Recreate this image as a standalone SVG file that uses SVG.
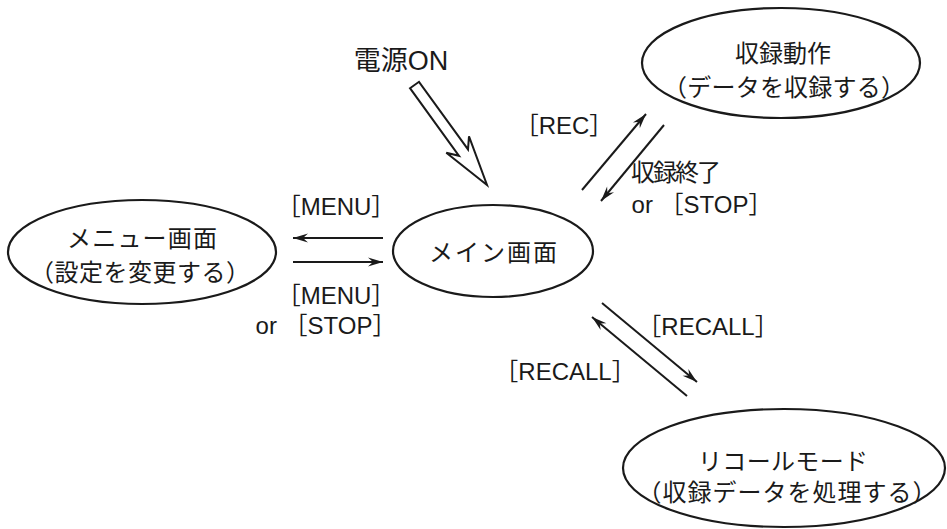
<svg xmlns="http://www.w3.org/2000/svg" width="947" height="529" viewBox="0 0 947 529">
<defs>
<marker id="ah" viewBox="-16 -6 18 12" markerWidth="18" markerHeight="12" refX="0" refY="0" orient="auto" markerUnits="userSpaceOnUse">
<path d="M0,0 L-15,-4.5 L-10,0 L-15,4.5 Z" fill="#1a1a1a"/>
</marker>
</defs>
<style>
.node ellipse{fill:#fff;stroke:#1a1a1a;stroke-width:2.2}
text{font-family:"Liberation Sans","Noto Sans CJK JP",sans-serif;font-size:24px;fill:#1a1a1a}
.lbl{text-anchor:middle}
.c line{stroke:#1a1a1a;stroke-width:2;marker-end:url(#ah)}
</style>
<rect width="947" height="529" fill="#fff"/>
<g id="main" class="node">
<ellipse cx="493" cy="251" rx="100" ry="46"/>
<text class="lbl" x="493" y="261" textLength="128" lengthAdjust="spacing">メイン画面</text>
</g>
<g id="menu" class="node">
<ellipse cx="142" cy="252" rx="134" ry="52"/>
<text class="lbl" x="142" y="247" textLength="150" lengthAdjust="spacing">メニュー画面</text>
<text class="lbl" x="140" y="281" textLength="220" lengthAdjust="spacing">（設定を変更する）</text>
</g>
<g id="rec" class="node">
<ellipse cx="781" cy="63" rx="139" ry="55"/>
<text class="lbl" x="783" y="62" textLength="96" lengthAdjust="spacing">収録動作</text>
<text class="lbl" x="784" y="96" textLength="242" lengthAdjust="spacing">（データを収録する）</text>
</g>
<g id="recall" class="node">
<ellipse cx="784" cy="468" rx="161" ry="59"/>
<text class="lbl" x="783" y="470" textLength="170" lengthAdjust="spacing">リコールモード</text>
<text class="lbl" x="787" y="501" textLength="299" lengthAdjust="spacing">（収録データを処理する）</text>
</g>
<g id="power">
<text class="lbl" x="401" y="70" style="font-size:27px">電源ON</text>
<polygon points="410,88.2 419,81.8 468,149.4 469,136.3 487,185 446.3,152.7 459,155.8" fill="#fff" stroke="#1a1a1a" stroke-width="2" stroke-linejoin="miter"/>
</g>
<g id="connectors" class="c">
<line x1="582" y1="190" x2="646" y2="114"/>
<line x1="664" y1="125" x2="601" y2="201"/>
<line x1="383" y1="238" x2="293" y2="238"/>
<line x1="293" y1="262" x2="383" y2="262"/>
<line x1="602" y1="303" x2="697" y2="382"/>
<line x1="687" y1="396" x2="592" y2="317"/>
</g>
<g id="labels">
<text class="lbl" x="336" y="215">［MENU］</text>
<text class="lbl" x="336" y="304">［MENU］</text>
<text class="lbl" x="326" y="334">or ［STOP］</text>
<text class="lbl" x="702" y="213">or ［STOP］</text>
<text class="lbl" x="564" y="134">［REC］</text>
<text class="lbl" x="676" y="181" textLength="90" lengthAdjust="spacing">収録終了</text>
<text class="lbl" x="708" y="335">［RECALL］</text>
<text class="lbl" x="565" y="380">［RECALL］</text>
</g>
</svg>
